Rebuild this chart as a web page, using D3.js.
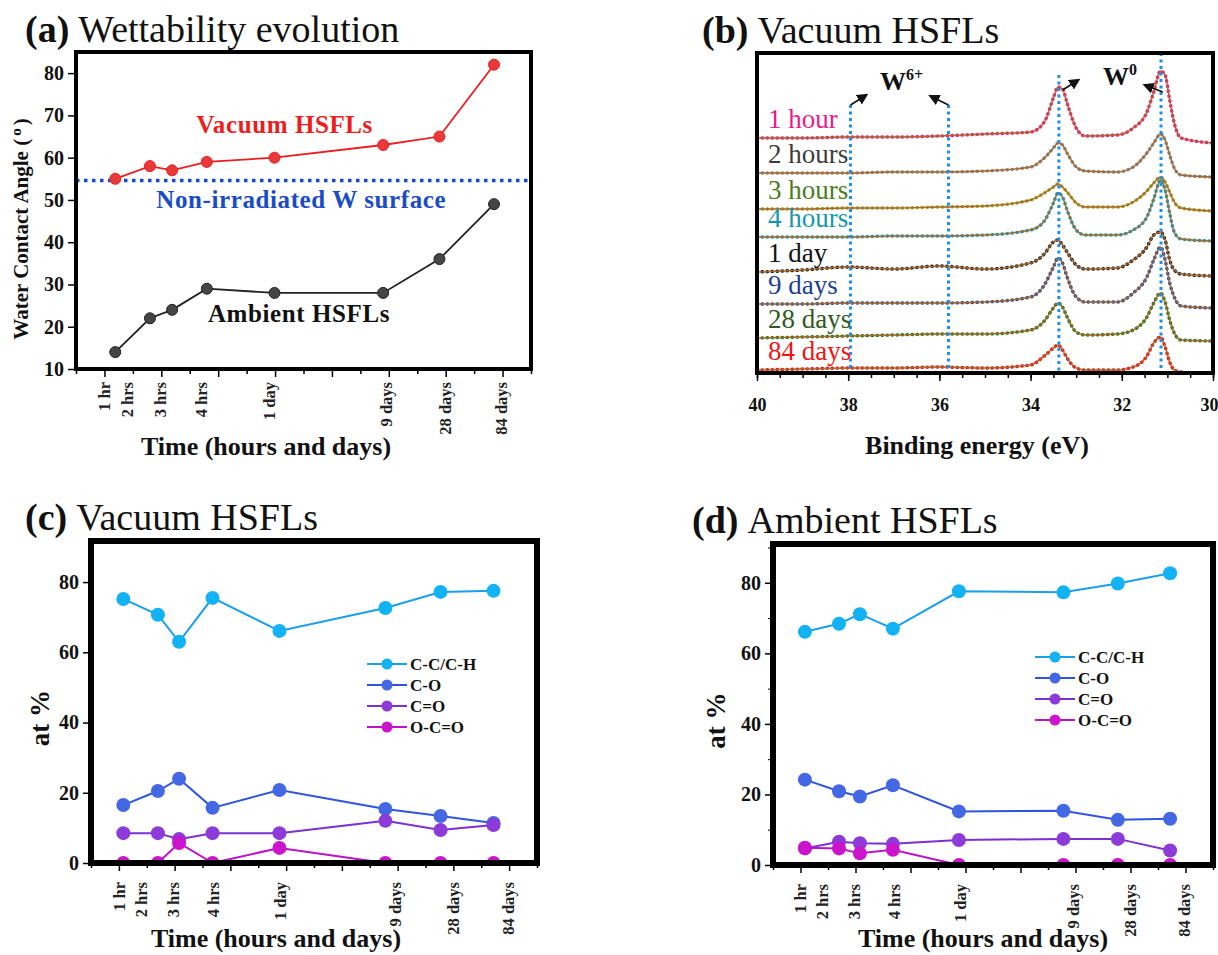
<!DOCTYPE html>
<html>
<head>
<meta charset="utf-8">
<script src="https://cdn.jsdelivr.net/npm/d3@7"></script>
<style>
  body { margin: 0; background: #fff; }
  svg { font-family: "Liberation Serif", "Times New Roman", serif; }
</style>
</head>
<body>
<svg id="fig" width="1218" height="955"></svg>
<script>
// ---------- panel (a): water contact angle ----------
const timeLabels = ["1 hr", "2 hrs", "3 hrs", "4 hrs", "1 day", "9 days", "28 days", "84 days"];
const timeLabelPos = [0, 0.4, 0.98, 1.7, 2.9, 4.95, 6.0, 6.98];
const wcaTimePos = [0.19, 0.8, 1.19, 1.8, 2.99, 4.9, 5.89, 6.85];
const vacuumWCA = [55, 58, 57, 59, 60, 63, 65, 82];
const ambientWCA = [14, 22, 24, 29, 28, 28, 36, 49];
const nonIrradiatedWCA = 54.6;
const wcaTicks = [10, 20, 30, 40, 50, 60, 70, 80];

// ---------- panel (b): W 4f spectra ----------
const bindingEnergy = [40, 39, 38, 37, 36, 35, 34.0, 33.7, 33.5, 33.4, 33.3, 33.2, 33.0, 32.8, 32.1, 31.75, 31.45, 31.3, 31.15, 31.05, 30.95, 30.85, 30.7, 30.0];
const spectraLabels = ["1 hour", "2 hours", "3 hours", "4 hours", "1 day", "9 days", "28 days", "84 days"];
const spec1h  = [23.5, 23.5, 23.6, 23.6, 23.7, 23.9, 24.1, 25.1, 27.5, 28.6, 28.4, 27.0, 24.5, 23.7, 23.8, 24.5, 26.1, 28.1, 30.2, 29.8, 27.3, 25.0, 23.5, 23.0];
const spec2h  = [20.0, 20.0, 20.0, 20.1, 20.1, 20.2, 20.6, 21.5, 22.5, 23.0, 22.8, 22.0, 20.6, 20.2, 20.1, 20.6, 22.0, 23.0, 23.9, 23.3, 21.8, 20.5, 19.8, 19.6];
const spec3h  = [16.4, 16.4, 16.5, 16.5, 16.6, 16.7, 17.3, 18.0, 18.6, 18.9, 18.6, 18.1, 17.0, 16.6, 16.6, 17.1, 18.2, 19.0, 19.6, 19.1, 18.1, 17.1, 16.5, 16.2];
const spec4h  = [13.6, 13.6, 13.6, 13.7, 13.7, 13.8, 14.3, 15.2, 17.0, 18.0, 17.6, 16.3, 14.3, 13.8, 13.8, 14.3, 15.6, 17.4, 19.3, 18.3, 16.0, 14.1, 13.4, 13.2];
const spec1d  = [10.1, 10.3, 10.6, 10.4, 10.7, 10.4, 11.0, 11.9, 13.1, 13.3, 12.8, 12.1, 10.8, 10.4, 10.5, 11.3, 12.6, 13.8, 14.1, 13.3, 11.3, 10.3, 9.9, 9.7];
const spec9d  = [6.9, 6.9, 7.0, 7.0, 7.0, 7.1, 7.6, 8.8, 10.6, 11.5, 11.0, 9.6, 7.6, 7.1, 7.1, 8.0, 9.6, 11.3, 12.6, 11.3, 9.0, 7.6, 6.7, 6.5];
const spec28d = [3.5, 3.6, 3.7, 3.8, 3.9, 3.9, 4.3, 5.2, 6.5, 7.0, 6.6, 5.6, 4.1, 3.8, 3.9, 4.3, 5.6, 7.0, 8.0, 7.1, 5.3, 4.0, 3.3, 3.2];
const spec84d = [0.3, 0.4, 0.5, 0.5, 0.6, 0.5, 0.8, 1.7, 2.5, 2.8, 2.3, 1.5, 0.5, 0.3, 0.3, 0.6, 1.7, 3.0, 3.6, 2.6, 1.1, 0.3, 0.1, null];
const energyTicks = [40, 38, 36, 34, 32, 30];
const refLineEnergy = [37.95, 35.8, 33.38, 31.14];
const refLineTop = [26.8, 26.8, 29.8, 32];

// ---------- panels (c), (d): C 1s components ----------
const carbonSpecies = ["C-C/C-H", "C-O", "C=O", "O-C=O"];
const xpsTimePos = [0.08, 0.7, 1.08, 1.68, 2.88, 4.78, 5.77, 6.72];
const vacCC  = [75.2, 70.7, 63.0, 75.5, 66.1, 72.6, 77.2, 77.5];
const vacCO  = [16.5, 20.5, 24.0, 15.7, 20.8, 15.4, 13.4, 11.4];
const vacCdO = [8.5, 8.5, 6.8, 8.5, 8.5, 12.0, 9.4, 10.8];
const vacOCO = [0, 0, 5.7, 0, 4.3, 0, 0, 0];
const ambCC  = [66.1, 68.4, 71.1, 67.0, 77.6, 77.3, 79.8, 82.7];
const ambCO  = [24.2, 20.9, 19.4, 22.6, 15.2, 15.4, 12.8, 13.1];
const ambCdO = [4.7, 6.6, 6.2, 6.0, 7.1, 7.4, 7.4, 4.1];
const ambOCO = [4.9, 4.7, 3.3, 4.3, 0, 0, 0, 0];
const atTicks = [0, 20, 40, 60, 80];

const specColors = ["#ef1888", "#3c3c3c", "#4a7d1e", "#1596ae", "#111111", "#1c3f94", "#2d5a1e", "#f01414"];
const dotColors  = ["#ef2080", "#8c8c8c", "#a8a020", "#1aa0b4", "#222222", "#2a4aa0", "#2a7a1a", "#ee1515"];
const speciesLine   = ["#1aa0ea", "#2f55e0", "#7c30d2", "#bb14c8"];
const speciesMarker = ["#12b2f4", "#4468e4", "#8c3ad8", "#cc14cc"];

const svg = d3.select("#fig");

// arrow head for panel (b)
svg.append("defs").append("marker")
    .attr("id", "arrow")
    .attr("viewBox", "0 0 10 10")
    .attr("refX", 8).attr("refY", 5)
    .attr("markerWidth", 7).attr("markerHeight", 7)
    .attr("orient", "auto")
    .append("path")
    .attr("d", "M0,0 L10,5 L0,10 Z")
    .attr("fill", "#111");

function panelTitle(letter, text, x, y) {
    const t = svg.append("text").attr("x", x).attr("y", y).attr("font-size", 38).attr("fill", "#111");
    t.append("tspan").attr("font-weight", "bold").text(`(${letter})`);
    t.append("tspan").attr("dx", 9).text(text);
}

function frame(box, w) {
    svg.append("rect")
        .attr("x", box.left).attr("y", box.top)
        .attr("width", box.right - box.left).attr("height", box.bottom - box.top)
        .attr("fill", "none").attr("stroke", "#000").attr("stroke-width", w);
}

function clipFor(id, box) {
    svg.select("defs").append("clipPath").attr("id", id)
        .append("rect")
        .attr("x", box.left).attr("y", box.top)
        .attr("width", box.right - box.left).attr("height", box.bottom - box.top);
}

function leftAxis(scale, ticks, box, size, minor) {
    if (minor) {
        svg.append("g")
            .attr("transform", `translate(${box.left}, 0)`)
            .call(d3.axisLeft(scale).tickValues(minor).tickSize(5).tickFormat(""))
            .call(g => g.select(".domain").remove());
    }
    svg.append("g")
        .attr("transform", `translate(${box.left}, 0)`)
        .call(d3.axisLeft(scale).tickValues(ticks).tickSize(8).tickPadding(4))
        .call(g => g.select(".domain").remove())
        .call(g => g.selectAll("line").attr("stroke-width", 1.5))
        .call(g => g.selectAll("text")
            .attr("font-family", '"Liberation Serif", serif')
            .attr("font-weight", "bold").attr("font-size", size).attr("fill", "#111"));
}

// time axis with rotated labels (panels a, c, d)
function timeAxis(x, box, labelGap) {
    svg.append("g")
        .attr("transform", `translate(0, ${box.bottom})`)
        .call(d3.axisBottom(x).tickValues(d3.range(-0.5, 7.6, 1)).tickSize(5).tickFormat(""))
        .call(g => g.select(".domain").remove())
        .call(g => g.selectAll("line").attr("stroke-width", 1.5));
    svg.append("g")
        .attr("transform", `translate(0, ${box.bottom})`)
        .call(d3.axisBottom(x).tickValues(d3.range(0, 8)).tickSize(8).tickFormat(""))
        .call(g => g.select(".domain").remove())
        .call(g => g.selectAll("line").attr("stroke-width", 1.5));

    svg.append("g").selectAll("text")
        .data(timeLabels)
        .join("text")
        .attr("transform", (d, i) => `translate(${x(timeLabelPos[i])}, ${box.bottom + labelGap}) rotate(-90)`)
        .attr("text-anchor", "end")
        .attr("dy", "0.35em")
        .attr("font-size", 16.5)
        .attr("font-weight", "bold")
        .attr("fill", "#222")
        .text(d => d);
}

function xTitle(text, cx, y) {
    svg.append("text")
        .attr("x", cx).attr("y", y)
        .attr("text-anchor", "middle")
        .attr("font-size", 26).attr("font-weight", "bold").attr("fill", "#111")
        .text(text);
}

// ================= (a) =================
panelTitle("a", "Wettability evolution", 25, 42);
const aBox = {left: 76, top: 52, right: 531, bottom: 369};
const ax = d3.scaleLinear().domain([-0.5, 7.5]).range([aBox.left, aBox.right]);
const ay = d3.scaleLinear().domain([10, 85]).range([aBox.bottom, aBox.top]);

svg.append("line")
    .attr("x1", aBox.left).attr("x2", aBox.right)
    .attr("y1", ay(nonIrradiatedWCA)).attr("y2", ay(nonIrradiatedWCA))
    .attr("stroke", "#1a4cc4").attr("stroke-width", 3.5)
    .attr("stroke-dasharray", "3.5 4.5");

const wcaLine = d3.line().x((d, i) => ax(wcaTimePos[i])).y(d => ay(d));
[[vacuumWCA, "#ee1c1c", "#e83a3a"], [ambientWCA, "#222", "#454545"]].forEach(([vals, stroke, fill]) => {
    svg.append("path").datum(vals)
        .attr("d", wcaLine)
        .attr("fill", "none").attr("stroke", stroke).attr("stroke-width", 1.8);
    svg.append("g").selectAll("circle")
        .data(vals)
        .join("circle")
        .attr("cx", (d, i) => ax(wcaTimePos[i]))
        .attr("cy", d => ay(d))
        .attr("r", 5.5)
        .attr("fill", fill).attr("stroke", stroke).attr("stroke-width", 1);
});

svg.append("text").attr("x", ax(3.17)).attr("y", ay(65.8))
    .attr("text-anchor", "middle").attr("font-size", 25).attr("font-weight", "bold")
    .attr("letter-spacing", 0.6).attr("fill", "#ee1c1c").text("Vacuum HSFLs");
svg.append("text").attr("x", ax(3.46)).attr("y", ay(48.1))
    .attr("text-anchor", "middle").attr("font-size", 25).attr("font-weight", "bold")
    .attr("letter-spacing", 0.6).attr("fill", "#1a4cc4").text("Non-irradiated W surface");
svg.append("text").attr("x", ax(3.42)).attr("y", ay(21.1))
    .attr("text-anchor", "middle").attr("font-size", 25).attr("font-weight", "bold")
    .attr("letter-spacing", 0.6).attr("fill", "#111").text("Ambient HSFLs");

leftAxis(ay, wcaTicks, aBox, 20);
timeAxis(ax, aBox, 13);
frame(aBox, 4);
xTitle("Time (hours and days)", 266, 455);

const aLabel = svg.append("text")
    .attr("transform", `translate(28, 229) rotate(-90)`)
    .attr("text-anchor", "middle")
    .attr("font-size", 21).attr("font-weight", "bold").attr("fill", "#111");
aLabel.append("tspan").text("Water Contact Angle  (");
aLabel.append("tspan").attr("dy", -7).attr("font-size", 15).attr("dx", 3).text("o");
aLabel.append("tspan").attr("dy", 7).attr("dx", 3).text(")");

// ================= (b) =================
panelTitle("b", "Vacuum HSFLs", 702, 43);
const bBox = {left: 757, top: 53, right: 1213, bottom: 373};
const bx = d3.scaleLinear().domain([40, 30]).range([bBox.left, bBox.right]);
const by = d3.scaleLinear().domain([0, 32]).range([bBox.bottom, bBox.top]);
clipFor("clipB", bBox);

const spectra = [spec1h, spec2h, spec3h, spec4h, spec1d, spec9d, spec28d, spec84d];
const specLine = d3.line()
    .defined(d => d != null)
    .x((d, i) => bx(bindingEnergy[i]))
    .y(d => by(d))
    .curve(d3.curveMonotoneX);

const bPlot = svg.append("g").attr("clip-path", "url(#clipB)");
spectra.forEach((vals, k) => {
    // measured points (dotted) then the fitted envelope
    bPlot.append("path").datum(vals)
        .attr("d", specLine)
        .attr("fill", "none").attr("stroke", dotColors[k]).attr("stroke-width", 3.4)
        .attr("stroke-linecap", "round").attr("stroke-dasharray", "0.6 4.4");
    bPlot.append("path").datum(vals)
        .attr("d", specLine)
        .attr("fill", "none").attr("stroke", "#a8692e").attr("stroke-width", 1.3);
    svg.append("text")
        .attr("x", bx(39.76)).attr("y", by(vals[0]) - 10)
        .attr("font-size", 27).attr("fill", specColors[k])
        .text(spectraLabels[k]);
});

bPlot.append("g").selectAll("line")
    .data(refLineEnergy)
    .join("line")
    .attr("x1", d => bx(d)).attr("x2", d => bx(d))
    .attr("y1", (d, i) => by(refLineTop[i])).attr("y2", bBox.bottom)
    .attr("stroke", "#1e8fe8").attr("stroke-width", 3)
    .attr("stroke-dasharray", "3 3.5");

// W6+ / W0 arrows
const arrows = [[37.95, 26.8, 37.6, 27.8], [35.8, 26.8, 36.2, 27.7], [33.3, 28.3, 32.95, 29.3], [31.1, 28.1, 31.5, 28.8]];
svg.append("g").selectAll("line")
    .data(arrows)
    .join("line")
    .attr("x1", d => bx(d[0])).attr("y1", d => by(d[1]))
    .attr("x2", d => bx(d[2])).attr("y2", d => by(d[3]))
    .attr("stroke", "#111").attr("stroke-width", 1.6)
    .attr("marker-end", "url(#arrow)");

const w6 = svg.append("text").attr("x", bx(37.3)).attr("y", by(28.3))
    .attr("font-size", 26).attr("font-weight", "bold").attr("fill", "#111");
w6.append("tspan").text("W");
w6.append("tspan").attr("dy", -10).attr("font-size", 16).text("6+");
const w0 = svg.append("text").attr("x", bx(32.41)).attr("y", by(28.8))
    .attr("font-size", 26).attr("font-weight", "bold").attr("fill", "#111");
w0.append("tspan").text("W");
w0.append("tspan").attr("dy", -10).attr("font-size", 16).text("0");

svg.append("g")
    .attr("transform", `translate(0, ${bBox.bottom})`)
    .call(d3.axisBottom(bx).tickValues(d3.range(30, 40.01, 0.5)).tickSize(5).tickFormat(""))
    .call(g => g.select(".domain").remove())
    .call(g => g.selectAll("line").attr("stroke-width", 1.5));
svg.append("g")
    .attr("transform", `translate(0, ${bBox.bottom})`)
    .call(d3.axisBottom(bx).tickValues(energyTicks).tickSize(8).tickPadding(17))
    .call(g => g.select(".domain").remove())
    .call(g => g.selectAll("line").attr("stroke-width", 1.5))
    .call(g => g.selectAll("text")
        .attr("font-family", '"Liberation Serif", serif')
        .attr("font-weight", "bold").attr("font-size", 18).attr("fill", "#111"))
    // the last label sits at the page edge
    .call(g => g.selectAll("text").filter(d => d === 30).attr("text-anchor", "end").attr("dx", 5));
frame(bBox, 4);
xTitle("Binding energy (eV)", 977, 454);

// ================= (c), (d) =================
function xpsPanel(id, box, yTop, series, legendX, legendY, labelX, titleX, minorTicks) {
    const x = d3.scaleLinear().domain([-0.5, 7.5]).range([box.left, box.right]);
    const y = d3.scaleLinear().domain([0, yTop]).range([box.bottom, box.top]);
    clipFor(id, box);
    const plot = svg.append("g").attr("clip-path", `url(#${id})`);
    const line = d3.line().x((d, i) => x(xpsTimePos[i])).y(d => y(d));

    series.forEach((vals, k) => {
        plot.append("path").datum(vals)
            .attr("d", line)
            .attr("fill", "none").attr("stroke", speciesLine[k]).attr("stroke-width", 2);
        plot.append("g").selectAll("circle")
            .data(vals)
            .join("circle")
            .attr("cx", (d, i) => x(xpsTimePos[i]))
            .attr("cy", d => y(d))
            .attr("r", 7)
            .attr("fill", speciesMarker[k]);
    });

    // legend
    const lg = svg.append("g").attr("transform", `translate(${legendX}, ${legendY})`);
    carbonSpecies.forEach((name, k) => {
        const row = lg.append("g").attr("transform", `translate(0, ${k * 21})`);
        row.append("line").attr("x1", 0).attr("x2", 40).attr("stroke", speciesLine[k]).attr("stroke-width", 2);
        row.append("circle").attr("cx", 20).attr("r", 5.5).attr("fill", speciesMarker[k]);
        row.append("text").attr("x", 43).attr("dy", "0.35em")
            .attr("font-size", 17).attr("font-weight", "bold").attr("fill", "#111")
            .text(name);
    });

    leftAxis(y, atTicks, box, 20, minorTicks);
    timeAxis(x, box, 19);
    frame(box, 6);
    xTitle("Time (hours and days)", titleX, 947);

    svg.append("text")
        .attr("transform", `translate(${labelX}, ${(box.top + box.bottom) / 2 + 16}) rotate(-90)`)
        .attr("text-anchor", "middle").attr("dy", "0.35em")
        .attr("font-size", 27).attr("font-weight", "bold").attr("fill", "#111")
        .text("at %");
}

panelTitle("c", "Vacuum HSFLs", 25, 530);
xpsPanel("clipC", {left: 91, top: 541, right: 537, bottom: 863}, 91.7,
    [vacCC, vacCO, vacCdO, vacOCO], 367, 664, 40, 276, null);

panelTitle("d", "Ambient HSFLs", 692, 533);
xpsPanel("clipD", {left: 773, top: 544, right: 1213, bottom: 865}, 91,
    [ambCC, ambCO, ambCdO, ambOCO], 1035, 657, 716, 983, [10, 30, 50, 70, 90]);
</script>
</body>
</html>
